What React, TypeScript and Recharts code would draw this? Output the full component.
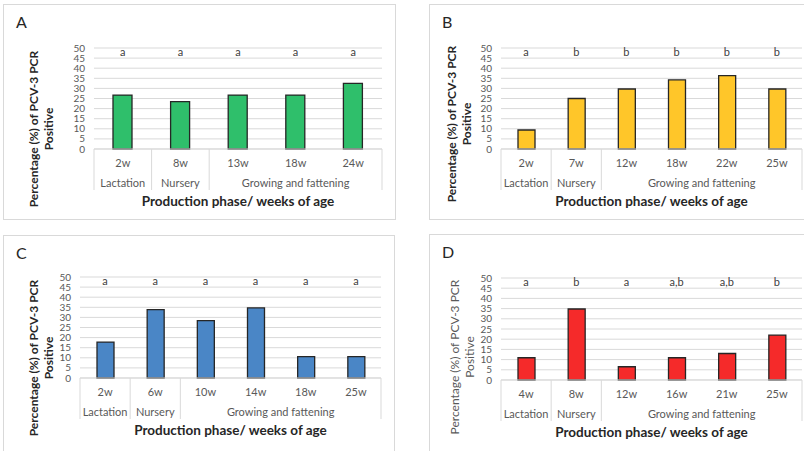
import React from 'react';
import { BarChart, Bar, XAxis, YAxis, CartesianGrid, ReferenceDot } from 'recharts';

// panel A
const weeksA = ['2w', '8w', '13w', '18w', '24w'];
const valuesA = [26.7, 23.5, 26.7, 26.7, 32.5];
const lettersA = ['a', 'a', 'a', 'a', 'a'];
const phasesA = ['Lactation', 'Nursery', 'Growing and fattening', 'Growing and fattening', 'Growing and fattening'];

// panel B
const weeksB = ['2w', '7w', '12w', '18w', '22w', '25w'];
const valuesB = [9.4, 25.0, 29.7, 34.2, 36.3, 29.7];
const lettersB = ['a', 'b', 'b', 'b', 'b', 'b'];
const phasesB = ['Lactation', 'Nursery', 'Growing and fattening', 'Growing and fattening', 'Growing and fattening', 'Growing and fattening'];

// panel C
const weeksC = ['2w', '6w', '10w', '14w', '18w', '25w'];
const valuesC = [17.8, 33.8, 28.4, 34.7, 10.6, 10.6];
const lettersC = ['a', 'a', 'a', 'a', 'a', 'a'];
const phasesC = phasesB;

// panel D
const weeksD = ['4w', '8w', '12w', '16w', '21w', '25w'];
const valuesD = [10.9, 34.8, 6.5, 10.9, 13.0, 22.0];
const lettersD = ['a', 'b', 'a', 'a,b', 'a,b', 'b'];
const phasesD = phasesB;

const yTicks = [0, 5, 10, 15, 20, 25, 30, 35, 40, 45, 50];
const LETTER_LEVEL = 47.8;

const Y_TITLE = 'Percentage (%) of PCV-3 PCR';
const Y_TITLE_2 = 'Positive';
const X_TITLE = 'Production phase/ weeks of age';

const FONT = 'Lato, "Open Sans", sans-serif';
const GRID = '#d9d9d9';
const LABEL = '#595959';
const YW = 30;
const XH = 50;

type Rect = { x: number; y: number; w: number; h: number };

interface PanelProps {
  tag: string;
  weeks: string[];
  values: number[];
  letters: string[];
  phases: string[];
  color: string;
  box: Rect;
  plot: Rect;
  barSize: number;
  yTitleX: number;
  yTitleY: number;
  boldY?: boolean;
}

const CategoryTick = (props: any) => {
  const { x, y, payload, index, phases, weeks, band } = props;
  const half = band / 2;
  const i = typeof index === 'number' ? index : payload.index;
  const phase = phases[i];
  const isStart = i === 0 || phases[i - 1] !== phase;
  const isLast = i === weeks.length - 1;
  let count = 0;
  if (isStart) {
    for (let k = i; k < phases.length && phases[k] === phase; k++) count++;
  }
  return (
    <g>
      <text x={x} y={y + 18} textAnchor="middle" fontSize={11} fill={LABEL}>
        {payload.value}
      </text>
      {isStart && <line x1={x - half} x2={x - half} y1={y} y2={y + 41} stroke={GRID} />}
      {isLast && <line x1={x + half} x2={x + half} y1={y} y2={y + 41} stroke={GRID} />}
      {isStart && (
        <text x={x - half + count * half} y={y + 38} textAnchor="middle" fontSize={11} fill={LABEL}>
          {phase}
        </text>
      )}
    </g>
  );
};

const Panel = ({ tag, weeks, values, letters, phases, color, box, plot, barSize, yTitleX, yTitleY, boldY = true }: PanelProps) => {
  const data = weeks.map((w, i) => ({ week: w, value: values[i], letter: letters[i] }));
  const margin = {
    top: plot.y - box.y,
    left: plot.x - box.x - YW,
    right: box.x + box.w - (plot.x + plot.w),
    bottom: box.y + box.h - (plot.y + plot.h) - XH,
  };
  const band = plot.w / weeks.length;
  return (
    <>
      <div
        style={{
          position: 'absolute',
          left: box.x,
          top: box.y,
          width: box.w,
          height: box.h,
          border: `1px solid ${GRID}`,
          boxSizing: 'border-box',
        }}
      />
      <div style={{ position: 'absolute', left: box.x + 13, top: box.y + 8, fontSize: 16, color: '#262626' }}>{tag}</div>
      <div style={{ position: 'absolute', left: box.x, top: box.y }}>
        <BarChart width={box.w} height={box.h} data={data} margin={margin}>
          <CartesianGrid vertical={false} stroke={GRID} />
          <XAxis
            dataKey="week"
            height={XH}
            interval={0}
            tickLine={false}
            tickSize={0}
            tickMargin={0}
            axisLine={{ stroke: GRID }}
            tick={(p: any) => <CategoryTick {...p} phases={phases} weeks={weeks} band={band} />}
          />
          <YAxis
            width={YW}
            domain={[0, 50]}
            ticks={yTicks}
            interval={0}
            axisLine={false}
            tickLine={false}
            tickSize={0}
            tickMargin={9}
            tick={{ fontSize: 10, fill: LABEL }}
          />
          <Bar dataKey="value" fill={color} stroke="#262626" strokeWidth={1.3} barSize={barSize} isAnimationActive={false} />
          {data.map((d) => (
            <ReferenceDot
              key={d.week}
              x={d.week}
              y={LETTER_LEVEL}
              r={0}
              ifOverflow="visible"
              fill="none"
              stroke="none"
              label={{ value: d.letter, position: 'center', fontSize: 11, fill: '#404040' }}
            />
          ))}
        </BarChart>
      </div>
      <div
        style={{
          position: 'absolute',
          left: box.x + yTitleX,
          top: plot.y + yTitleY,
          transform: 'translate(-50%, -50%) rotate(-90deg)',
          whiteSpace: 'nowrap',
          textAlign: 'center',
          fontSize: 12,
          lineHeight: '15px',
          fontWeight: boldY ? 700 : 400,
          color: boldY ? '#262626' : LABEL,
        }}
      >
        {Y_TITLE}
        <br />
        {Y_TITLE_2}
      </div>
      <div
        style={{
          position: 'absolute',
          left: plot.x + plot.w / 2,
          top: plot.y + plot.h + 52,
          transform: 'translate(-50%, -50%)',
          fontSize: 13.5,
          fontWeight: 700,
          color: '#262626',
          whiteSpace: 'nowrap',
        }}
      >
        {X_TITLE}
      </div>
    </>
  );
};

export default function App() {
  return (
    <div
      style={{
        position: 'absolute',
        left: 0,
        top: 0,
        width: 804,
        height: 451,
        overflow: 'hidden',
        background: '#fff',
        fontFamily: FONT,
      }}
    >
      <Panel tag="A" weeks={weeksA} values={valuesA} letters={lettersA} phases={phasesA} color="#2fbf6b"
        box={{ x: 3, y: 4, w: 393, h: 216 }} plot={{ x: 94, y: 48, w: 288, h: 101 }} barSize={19}
        yTitleX={37.5} yTitleY={81} />
      <Panel tag="B" weeks={weeksB} values={valuesB} letters={lettersB} phases={phasesB} color="#ffc629"
        box={{ x: 429, y: 4, w: 385, h: 216 }} plot={{ x: 501, y: 48, w: 301, h: 101 }} barSize={17}
        yTitleX={30} yTitleY={76} />
      <Panel tag="C" weeks={weeksC} values={valuesC} letters={lettersC} phases={phasesC} color="#4a86c6"
        box={{ x: 3, y: 235, w: 392, h: 230 }} plot={{ x: 80, y: 277, w: 301, h: 101 }} barSize={17}
        yTitleX={37.5} yTitleY={81} />
      <Panel tag="D" weeks={weeksD} values={valuesD} letters={lettersD} phases={phasesD} color="#f52a2a"
        box={{ x: 429, y: 234, w: 385, h: 230 }} plot={{ x: 501, y: 278, w: 301, h: 102 }} barSize={17}
        yTitleX={32.5} yTitleY={79} boldY={false} />
    </div>
  );
}
